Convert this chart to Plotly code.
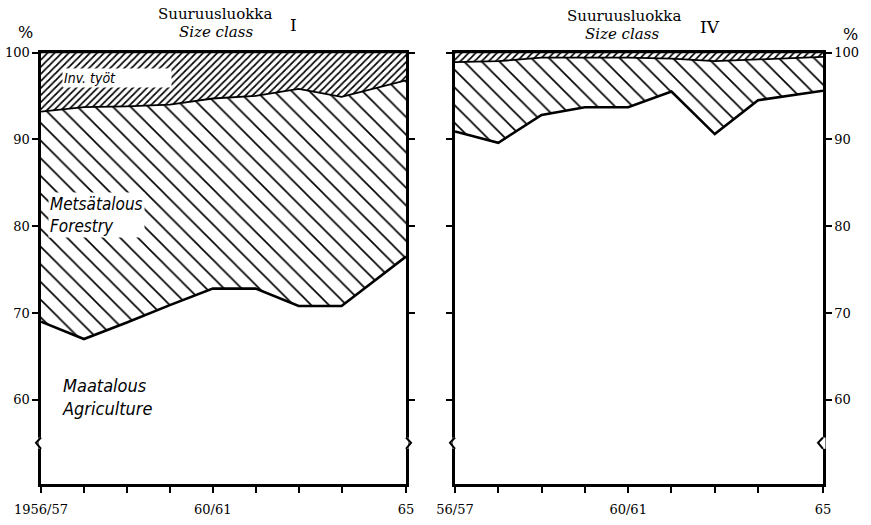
import plotly.graph_objects as go

# Crop years (centre of each crop year); the last point is calendar year 1965
years = [1957.0, 1958.0, 1959.0, 1960.0, 1961.0, 1962.0, 1963.0, 1964.0, 1965.5]
tick_text_I = ["1956/57", "", "", "", "60/61", "", "", "", "65"]
tick_text_IV = ["56/57", "", "", "", "60/61", "", "", "", "65"]

# Size class I: shares of working time, %
agri_I = [69.0, 67.0, 68.9, 70.9, 72.8, 72.8, 70.8, 70.8, 76.5]
forest_I = [24.2, 26.7, 24.9, 23.1, 21.9, 22.2, 25.0, 24.1, 20.3]
inv_I = [6.8, 6.3, 6.2, 6.0, 5.3, 5.0, 4.2, 5.1, 3.2]

# Size class IV: shares of working time, %
agri_IV = [90.9, 89.6, 92.8, 93.7, 93.7, 95.5, 90.6, 94.5, 95.6]
forest_IV = [8.0, 9.4, 6.6, 5.7, 5.7, 3.8, 8.4, 4.7, 3.9]
inv_IV = [1.1, 1.0, 0.6, 0.6, 0.6, 0.7, 1.0, 0.8, 0.5]

y_ticks = [60, 70, 80, 90, 100]
y_range = [50.3, 100]
axis_break = 55.0

W, H = 871, 525
SERIF = "DejaVu Serif"
HAND = "Liberation Sans Narrow, DejaVu Sans Condensed, sans-serif"

dom_I = [41 / W, 406 / W]
dom_IV = [455 / W, 823 / W]

fig = go.Figure()


def add_panel(agri, forest, inv, xa, ya, grp):
    fig.add_trace(go.Scatter(
        x=years, y=agri, stackgroup=grp, mode="lines",
        line=dict(color="black", width=2.6), fillcolor="white",
        xaxis=xa, yaxis=ya, hoverinfo="skip", showlegend=False))
    fig.add_trace(go.Scatter(
        x=years, y=forest, stackgroup=grp, mode="lines",
        line=dict(color="black", width=1.8),
        fillpattern=dict(shape="\\", size=12.5, solidity=0.13,
                         fgcolor="black", bgcolor="white"),
        xaxis=xa, yaxis=ya, hoverinfo="skip", showlegend=False))
    fig.add_trace(go.Scatter(
        x=years, y=inv, stackgroup=grp, mode="lines",
        line=dict(color="black", width=1.5),
        fillpattern=dict(shape="/", size=5, solidity=0.34,
                         fgcolor="black", bgcolor="white"),
        xaxis=xa, yaxis=ya, hoverinfo="skip", showlegend=False))


add_panel(agri_I, forest_I, inv_I, "x", "y", "I")
add_panel(agri_IV, forest_IV, inv_IV, "x2", "y2", "IV")

xcommon = dict(range=[years[0], years[-1]], showline=True, linecolor="black",
               linewidth=2.6, mirror=True, ticks="outside", ticklen=6,
               tickwidth=2, tickcolor="black", tickvals=years,
               showgrid=False, zeroline=False, ticklabelstandoff=6,
               automargin=False,
               tickfont=dict(family=SERIF, size=13, color="black"))
ycommon = dict(range=y_range, showline=True, linecolor="black", linewidth=2.6,
               mirror="ticks", ticks="outside", ticklen=6, tickwidth=2,
               tickcolor="black", tickvals=y_ticks, showgrid=False,
               zeroline=False, domain=[1 - 484 / H, 1 - 52.5 / H],
               automargin=False,
               tickfont=dict(family=SERIF, size=13, color="black"))

fig.update_layout(
    template="none",
    width=W, height=H,
    margin=dict(l=0, r=0, t=0, b=0, pad=0, autoexpand=False),
    paper_bgcolor="white", plot_bgcolor="white",
    hovermode=False,
    xaxis=dict(xcommon, domain=dom_I, ticktext=tick_text_I, anchor="y"),
    xaxis2=dict(xcommon, domain=dom_IV, ticktext=tick_text_IV, anchor="y2"),
    yaxis=dict(ycommon, anchor="x", side="left"),
    yaxis2=dict(ycommon, anchor="x2", side="right"),
)

# axis break marks (zigzag on each vertical axis)
shapes = []
dx = 5 / W
dy = 0.65
for yr, xv, sgn in [("y", dom_I[0], -1), ("y", dom_I[1], 1),
                    ("y2", dom_IV[0], -1), ("y2", dom_IV[1], -1)]:
    shapes.append(dict(type="line", xref="paper", yref=yr, x0=xv, x1=xv,
                       y0=axis_break - dy, y1=axis_break + dy,
                       line=dict(color="white", width=5), layer="above"))
    shapes.append(dict(type="path", xref="paper", yref=yr, layer="above",
                       path=f"M{xv},{axis_break + dy} L{xv + sgn * dx},{axis_break + 0.05} "
                            f"L{xv},{axis_break - dy}",
                       line=dict(color="black", width=2)))
fig.update_layout(shapes=shapes)


def ann(text, px, py, size, family=SERIF, italic=False, xanchor="center", bg=None,
        align="center", width=None):
    t = f"<i>{text}</i>" if italic else text
    d = dict(text=t, x=px / W, y=1 - py / H, xref="paper", yref="paper",
             showarrow=False, xanchor=xanchor, yanchor="middle", align=align,
             font=dict(family=family, size=size, color="black"))
    if bg:
        d["bgcolor"] = bg
    if width:
        d["width"] = width
    fig.add_annotation(**d)


ann("Suuruusluokka", 215, 14, 15)
ann("Size class", 216, 32, 15, italic=True)
ann("I", 293, 25, 17)
ann("Suuruusluokka", 624, 16, 15)
ann("Size class", 622, 34, 15, italic=True)
ann("IV", 710, 27, 17)
ann("%", 25, 33, 16)
ann("%", 850, 35, 16)

ann("Inv. työt", 62, 78, 14, family=HAND, italic=True, xanchor="left", bg="white",
    align="left", width=106)
ann("Metsätalous<br>Forestry", 48, 215, 17, family=HAND, italic=True, xanchor="left",
    bg="white", align="left")
ann("Maatalous<br>Agriculture", 60, 397, 18, family=HAND, italic=True, xanchor="left",
    align="left")

fig.write_html("out.html", post_script="document.body.style.margin='0px';",
               config={"displayModeBar": False, "staticPlot": True})
